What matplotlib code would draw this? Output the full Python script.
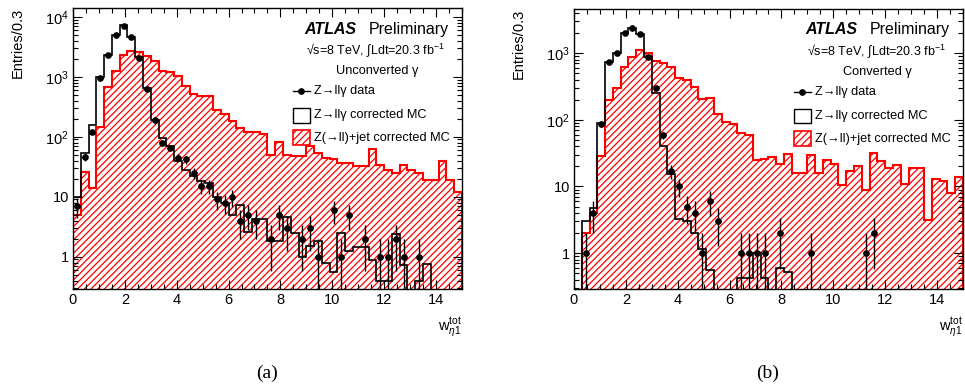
import numpy as np
import matplotlib
matplotlib.use('Agg')
import matplotlib.pyplot as plt
from matplotlib.patches import Rectangle
from matplotlib.lines import Line2D
from matplotlib.ticker import LogLocator, MultipleLocator, FuncFormatter, NullFormatter

plt.rcParams['font.family'] = ['Liberation Sans', 'DejaVu Sans']
plt.rcParams['mathtext.fontset'] = 'custom'
plt.rcParams['mathtext.rm'] = 'Liberation Sans'
plt.rcParams['mathtext.it'] = 'Liberation Sans:italic'
plt.rcParams['mathtext.bf'] = 'Liberation Sans:bold'
plt.rcParams['hatch.linewidth'] = 0.9
plt.rcParams['hatch.color'] = 'red'

# bins of 0.3 from 0 to 15
edges = np.linspace(0, 15, 51)

# (a) unconverted photons
zjet_a = [5, 26, 14, 148, 675, 1270, 2340, 2700, 2540, 2230,
          1800, 1270, 1220, 1040, 710, 520, 470, 470, 280, 240,
          185, 139, 120, 120, 110, 50, 83, 50, 47, 47,
          69, 53, 45, 43, 37, 36, 32, 32, 62, 34,
          28, 25, 34, 28, 25, 19, 19, 40, 19, 12]
zllg_a = [10, 53, 158, 975, 2330, 5000, 7170, 4680, 2130, 650,
          192, 95, 69, 39, 28, 22, 18, 17, 10, 7.8,
          5, 7.4, 2.6, 4.2, 4.2, 1.8, 1.8, 4.6, 2.5, 1.0,
          1.5, 1.8, 0.78, 0.55, 2.5, 1.27, 1.43, 1.43, 0.89, 0.4,
          0.4, 2.4, 0.73, 0, 0.4, 0.77, 0, 0, 0, 0]
data_a = [7, 46, 121, 970, 2330, 4900, 7100, 4600, 2050, 630,
          192, 80, 65, 44, 42, 25, 15, 15, 9, 8,
          10, 4, 5, 4, 0, 2, 5, 3, 0, 2,
          3, 1, 0, 6, 1, 5, 0, 2, 0, 1,
          1, 2, 1, 0, 1, 0, 0, 0, 0, 0]

# (b) converted photons
zjet_b = [0, 2, 4, 29, 197, 305, 620, 880, 1100, 1000,
          760, 700, 620, 420, 390, 310, 205, 210, 124, 93,
          87, 64, 59, 25, 26, 28, 22, 31, 16, 16,
          30, 16, 25, 22, 10.4, 17, 20, 9, 32, 24,
          19, 21, 11, 19, 19, 3.1, 13, 12, 8, 14]
zllg_b = [0, 3, 4.7, 90, 740, 1010, 2040, 2350, 1970, 880,
          250, 40, 15.3, 3.3, 3.05, 2.0, 1.17, 0.56, 0, 0,
          0, 0.42, 0.42, 1.0, 0.42, 0, 0.59, 0.53, 0, 0,
          0, 0, 0, 0, 0, 0, 0, 0, 0, 0,
          0, 0, 0, 0, 0, 0, 0, 0, 0, 0]
data_b = [0, 1, 4, 86, 730, 1010, 2000, 2350, 1950, 880,
          305, 59, 17, 10, 5, 4, 1, 6, 3, 0,
          0, 1, 1, 1, 1, 0, 2, 0, 0, 0,
          1, 0, 0, 0, 0, 0, 0, 1, 2, 0,
          0, 0, 0, 0, 0, 0, 0, 0, 0, 0]


def log_fmt(v, pos):
    if abs(v - 1) < 1e-9:
        return '1'
    if abs(v - 10) < 1e-9:
        return '10'
    return r'$10^{%d}$' % round(np.log10(v))


def draw(ax, zjet, zllg, data, ylim, conv):
    zjet = np.array(zjet, float)
    zllg = np.array(zllg, float)
    data = np.array(data, float)
    ax.stairs(np.maximum(zjet, 1e-3), edges, baseline=1e-3, fill=True,
              facecolor='white', edgecolor='red', hatch='/////', lw=1.5)
    ax.stairs(np.maximum(zllg, 1e-3), edges, baseline=1e-3,
              color='black', lw=1.2)
    centers = 0.5 * (edges[1:] + edges[:-1])
    m = data > 0
    err = np.sqrt(data[m])
    lo = np.minimum(err, data[m] * 0.999)
    ax.errorbar(centers[m], data[m], yerr=[lo, err], xerr=0.1, fmt='o',
                color='black', ms=3.8, elinewidth=1.0, capsize=0)

    ax.set_yscale('log')
    ax.set_xlim(0, 15)
    ax.set_ylim(*ylim)
    ax.xaxis.set_major_locator(MultipleLocator(2))
    ax.xaxis.set_minor_locator(MultipleLocator(0.5))
    ax.yaxis.set_major_locator(LogLocator(base=10))
    ax.yaxis.set_minor_locator(LogLocator(base=10, subs=np.arange(2, 10)))
    ax.yaxis.set_major_formatter(FuncFormatter(log_fmt))
    ax.yaxis.set_minor_formatter(NullFormatter())
    ax.tick_params(which='both', direction='in', top=True, right=True,
                   labelsize=10.5, width=0.8)
    ax.tick_params(which='major', length=6.5, pad=3)
    ax.tick_params(which='minor', length=3.5)
    for s in ax.spines.values():
        s.set_linewidth(1.0)

    ax.text(-0.141, 1.0, 'Entries/0.3', rotation=90, ha='center', va='top',
            fontsize=10.5, transform=ax.transAxes)
    ax.text(1.0, -0.135, r'$\mathrm{w}_{\eta1}^{\mathrm{tot}}$', ha='right',
            va='center', fontsize=10.5, transform=ax.transAxes)

    ax.text(0.596, 0.925, 'ATLAS', fontweight='bold', fontstyle='italic',
            fontsize=11.5, ha='left', va='center', transform=ax.transAxes)
    ax.text(0.761, 0.925, 'Preliminary', fontsize=11.5, ha='left',
            va='center', transform=ax.transAxes)
    ax.text(0.60, 0.851, r'√s=8 TeV, $\int$Ldt=20.3 fb$^{-1}$', fontsize=9,
            ha='left', va='center', transform=ax.transAxes)
    ax.text(0.781, 0.776, conv + ' γ', fontsize=9.2, ha='center',
            va='center', transform=ax.transAxes)

    # legend drawn by hand
    bx, bw, bh = 0.5656, 0.0437, 0.0534
    ax.add_line(Line2D([bx, bx + bw], [0.705, 0.705], color='black', lw=1.0,
                       transform=ax.transAxes))
    ax.add_line(Line2D([bx + bw / 2], [0.705], marker='o', ms=3.8,
                       color='black', transform=ax.transAxes))
    ax.add_patch(Rectangle((bx, 0.591), bw, bh, facecolor='white',
                           edgecolor='black', lw=1.0, transform=ax.transAxes))
    ax.add_patch(Rectangle((bx, 0.511), bw, bh, facecolor='white',
                           edgecolor='red', hatch='/////', lw=1.2,
                           transform=ax.transAxes))
    tx = 0.6195
    ax.text(tx, 0.705, 'Z→llγ data', fontsize=9.2, va='center',
            transform=ax.transAxes)
    ax.text(tx, 0.619, 'Z→llγ corrected MC', fontsize=9.2, va='center',
            transform=ax.transAxes)
    ax.text(tx, 0.537, 'Z(→ll)+jet corrected MC', fontsize=9.2, va='center',
            transform=ax.transAxes)


fig = plt.figure(figsize=(9.65, 3.92), dpi=100)
ax1 = fig.add_axes([0.0756, 0.2628, 0.4031, 0.7168])
ax2 = fig.add_axes([0.5948, 0.2628, 0.4031, 0.7143])

draw(ax1, zjet_a, zllg_a, data_a, (0.29, 1.4e4), 'Unconverted')
draw(ax2, zjet_b, zllg_b, data_b, (0.29, 4600), 'Converted')

fig.text(267 / 965, 1 - 373 / 392, '(a)', fontfamily='Liberation Serif',
         fontsize=14, ha='center', va='center')
fig.text(768 / 965, 1 - 373 / 392, '(b)', fontfamily='Liberation Serif',
         fontsize=14, ha='center', va='center')

fig.savefig('out.png', dpi=100)
